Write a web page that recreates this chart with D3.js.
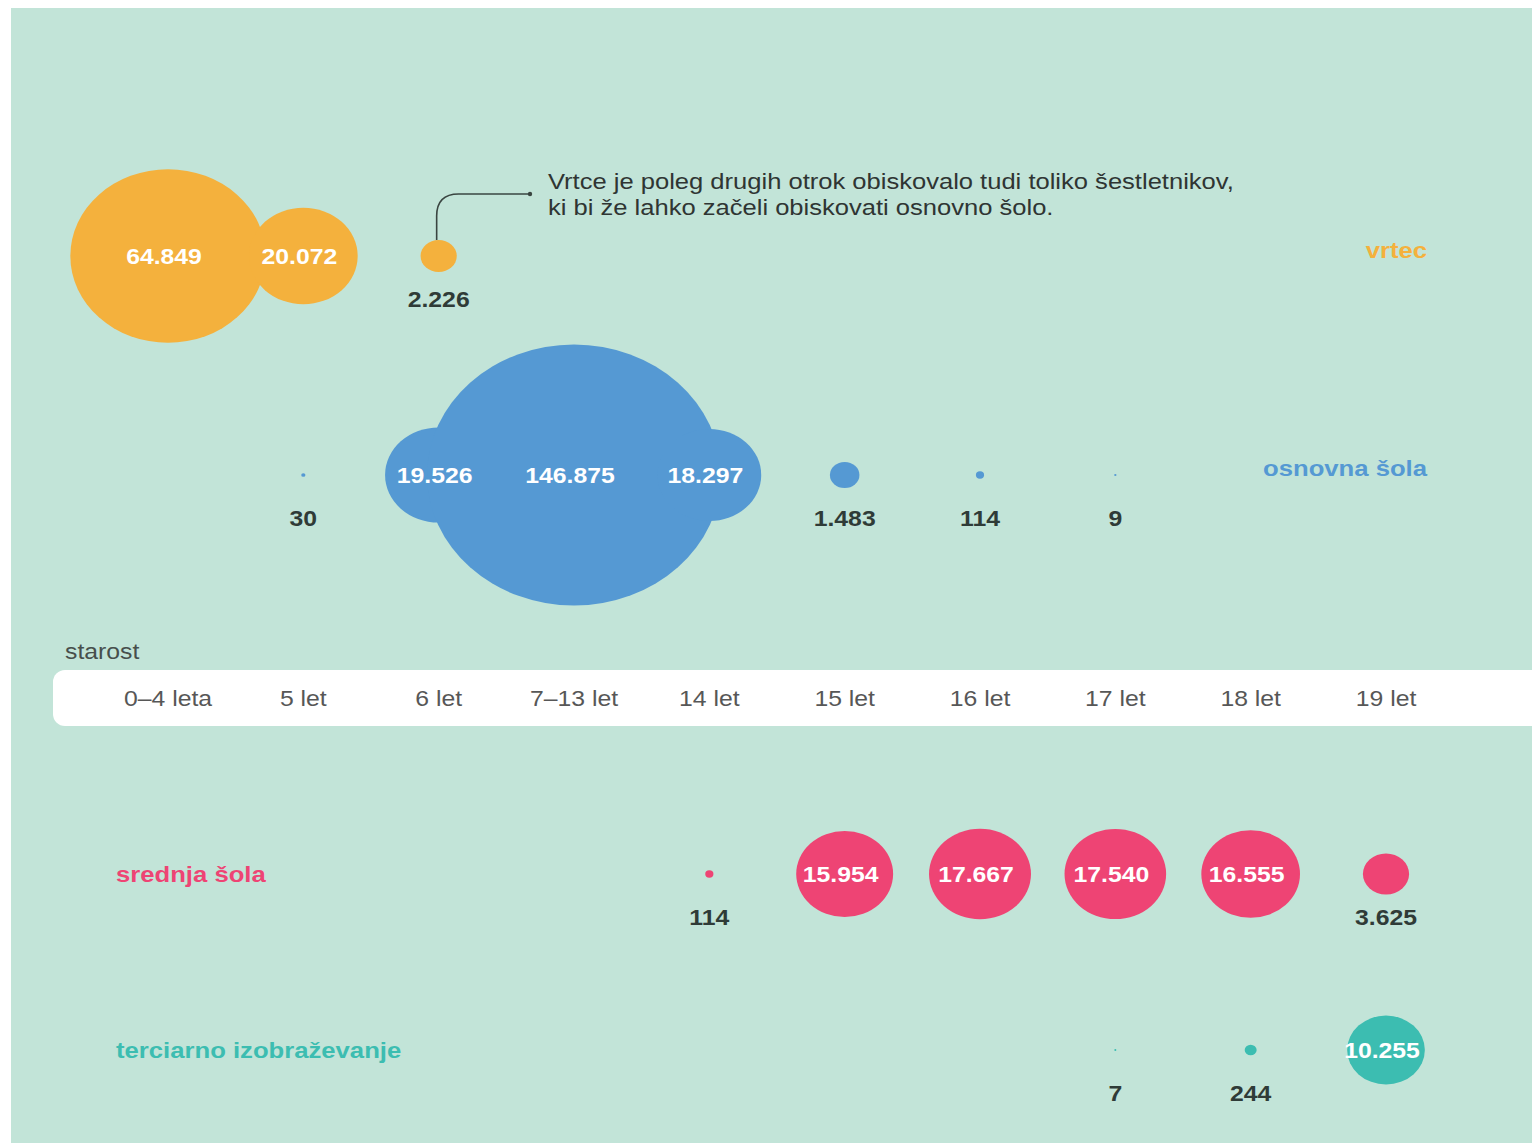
<!DOCTYPE html>
<html>
<head>
<meta charset="utf-8">
<script src="https://cdn.jsdelivr.net/npm/d3@7"></script>
<style>
  html, body { margin: 0; padding: 0; background: #ffffff; }
  svg { display: block; }
  text { font-family: "Liberation Sans", Arial, sans-serif; }
</style>
</head>
<body>
<svg id="chart" width="1532" height="1143"></svg>
<script>
// Age groups along the shared axis
const ages = ["0–4 leta", "5 let", "6 let", "7–13 let", "14 let", "15 let", "16 let", "17 let", "18 let", "19 let"];

// Enrolled pupils / students per age group (null = none)
const vrtec     = [64849, 20072, 2226, null, null, null, null, null, null, null];
const osnovna   = [null, 30, 19526, 146875, 18297, 1483, 114, 9, null, null];
const srednja   = [null, null, null, null, 114, 15954, 17667, 17540, 16555, 3625];
const terciarno = [null, null, null, null, null, null, null, 7, 244, 10255];

const seriesNames = ["vrtec", "osnovna šola", "srednja šola", "terciarno izobraževanje"];
const seriesColors = ["#f4b13d", "#5599d3", "#ee4474", "#3cbdb1"];

const note = [
  "Vrtce je poleg drugih otrok obiskovalo tudi toliko šestletnikov,",
  "ki bi že lahko začeli obiskovati osnovno šolo."
];

// Values above this are printed inside their bubble
const insideThreshold = 10000;

const W = 1532, H = 1143;
const svg = d3.select("#chart");
const sx = 1.126;          // horizontal stretch of the layout (bubbles are slightly wide)
const fmt = d3.formatLocale({ decimal: ",", thousands: ".", grouping: [3], currency: ["", " €"] }).format(",d");

// background panel
svg.append("rect").attr("x", 11).attr("y", 8).attr("width", W - 11).attr("height", H - 8).attr("fill", "#c2e4d8");

const x = d3.scalePoint().domain(ages).range([168, 1386]);
const r = d3.scaleSqrt().domain([0, 146875]).range([0, 147]);

function label(g, px, py, str) {
  return g.append("text")
    .attr("transform", `translate(${px},${py}) scale(${sx},1)`)
    .attr("dominant-baseline", "central")
    .text(str);
}

const rows = [
  { values: vrtec,     y: 256,  name: seriesNames[0], color: seriesColors[0], nameX: 1427, nameY: 250, anchor: "end" },
  { values: osnovna,   y: 475,  name: seriesNames[1], color: seriesColors[1], nameX: 1427, nameY: 468, anchor: "end" },
  { values: srednja,   y: 874,  name: seriesNames[2], color: seriesColors[2], nameX: 116,  nameY: 874, anchor: "start" },
  { values: terciarno, y: 1050, name: seriesNames[3], color: seriesColors[3], nameX: 116,  nameY: 1050, anchor: "start" }
];

rows.forEach(row => {
  const data = row.values.map((v, i) => ({ age: ages[i], v })).filter(d => d.v != null);
  const g = svg.append("g");

  g.selectAll("ellipse").data(data).join("ellipse")
    .attr("cx", d => x(d.age))
    .attr("cy", row.y)
    .attr("rx", d => r(d.v))
    .attr("ry", d => r(d.v) / sx)
    .attr("fill", row.color);

  data.forEach(d => {
    const inside = d.v > insideThreshold;
    label(g, x(d.age) - (inside ? 4 : 0), inside ? row.y : row.y + 43, fmt(d.v))
      .attr("text-anchor", "middle")
      .attr("font-size", 22)
      .attr("font-weight", "bold")
      .attr("fill", inside ? "#ffffff" : "#2f3b37");
  });

  label(svg, row.nameX, row.nameY, row.name)
    .attr("text-anchor", row.anchor)
    .attr("font-size", 22.8)
    .attr("font-weight", "bold")
    .attr("fill", row.color);
});

// age axis band
const axisY = 698;
svg.append("rect")
  .attr("x", 53).attr("y", 670).attr("width", W - 53 + 20).attr("height", 56)
  .attr("rx", 12).attr("fill", "#ffffff");

label(svg, 65, 651, "starost").attr("font-size", 22).attr("fill", "#474f4c");

const axis = svg.append("g");
ages.forEach(a => {
  label(axis, x(a), axisY, a)
    .attr("text-anchor", "middle")
    .attr("font-size", 22)
    .attr("fill", "#575757");
});

// annotation for six-year-olds in kindergarten
const ax = x(ages[2]) - 2;
const topOfBubble = vrtec[2] ? 256 - r(vrtec[2]) / sx : 256;
const p = d3.path();
p.moveTo(ax, topOfBubble);
p.lineTo(ax, 216);
p.quadraticCurveTo(ax, 194, ax + 22, 194);
p.lineTo(530, 194);
svg.append("path").attr("d", p.toString()).attr("fill", "none").attr("stroke", "#3a4541").attr("stroke-width", 1.6);
svg.append("circle").attr("cx", 530).attr("cy", 194).attr("r", 2.2).attr("fill", "#3a4541");

note.forEach((line, i) => {
  label(svg, 548, 181 + i * 26, line).attr("font-size", 22.7).attr("fill", "#2f3533");
});
</script>
</body>
</html>
